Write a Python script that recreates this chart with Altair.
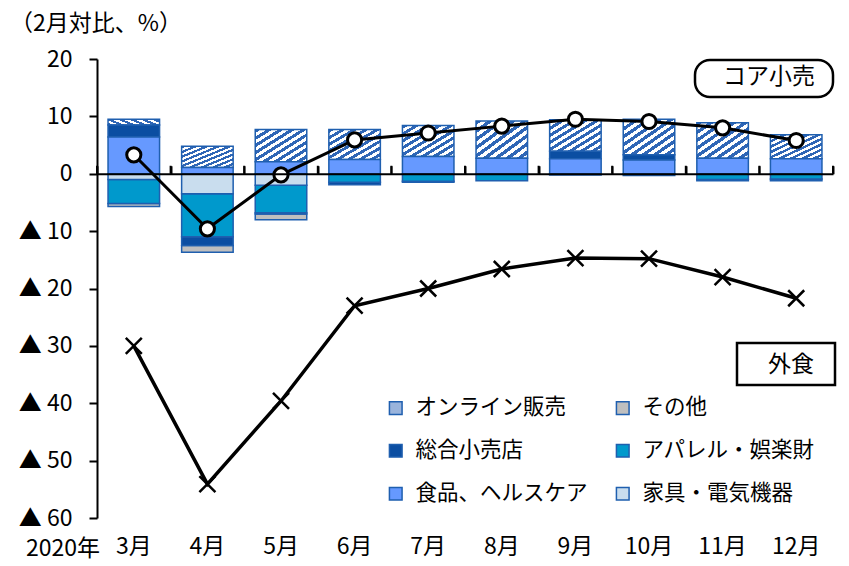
import altair as alt
import pandas as pd

months = ['3月', '4月', '5月', '6月', '7月', '8月', '9月', '10月', '11月', '12月']
categories = ['オンライン販売', '総合小売店', '食品、ヘルスケア', 'その他', 'アパレル・娯楽財', '家具・電気機器']
stack_order = ['家具・電気機器', '食品、ヘルスケア', 'アパレル・娯楽財', '総合小売店', 'その他', 'オンライン販売']

online    = [1.0, 3.7, 5.6, 5.2, 5.4, 6.5, 5.5, 6.2, 6.2, 4.2]
other     = [-0.5, -1.2, -1.0, 0, 0, 0, 0, 0, 0, 0]
general   = [2.1, -1.5, -0.2, -0.4, -0.2, 0, 1.3, 0.9, -0.2, -0.3]
apparel   = [-4.2, -7.5, -4.8, -1.5, -1.3, -1.2, -0.2, -0.3, -1.0, -0.9]
food      = [6.4, 1.1, 2.1, 2.5, 3.0, 2.7, 2.6, 2.4, 2.7, 2.6]
furniture = [-1.0, -3.5, -2.0, 0, 0, 0, 0, 0, 0, 0]

core   = [3.3, -9.6, -0.2, 5.9, 7.1, 8.3, 9.5, 9.1, 8.0, 5.8]
dining = [-30.0, -54.1, -39.6, -23.0, -20.0, -16.6, -14.7, -14.8, -18.0, -21.7]

y_ticks = [-60, -50, -40, -30, -20, -10, 0, 10, 20]
y_title = ['（2月対比、%）']
year_label = ['2020年']
core_label = ['コア小売']
dining_label = ['外食']

series = {
    'オンライン販売': online,
    'その他': other,
    '総合小売店': general,
    'アパレル・娯楽財': apparel,
    '食品、ヘルスケア': food,
    '家具・電気機器': furniture,
}
rows = []
for cat, vals in series.items():
    for m, v in zip(months, vals):
        if v != 0:
            rows.append({'month': m, 'cat': cat, 'value': v})
bars_df = pd.DataFrame(rows)
lines_df = pd.DataFrame({'month': months, 'core': core, 'dining': dining})

color_map = {'オンライン販売': '#9AB4DC', 'その他': '#BFBFBF', '総合小売店': '#0B4EA2',
             'アパレル・娯楽財': '#0099CC', '食品、ヘルスケア': '#6699FF', '家具・電気機器': '#C9DDEE'}
colors = [color_map[c] for c in categories]
stroke_blue = '#1F5FAF'
stripe_blue = '#2F66B6'


def stripes(n):
    st = []
    for k in range(n):
        a = k / n
        b = (k + 0.5) / n
        c = (k + 1) / n
        st += [{'offset': a, 'color': stripe_blue}, {'offset': b, 'color': stripe_blue},
               {'offset': b, 'color': 'white'}, {'offset': c, 'color': 'white'}]
    return {'gradient': 'linear', 'x1': 0, 'y1': 0, 'x2': 1, 'y2': 1, 'stops': st}


hatch = stripes(9)

W, H = 736, 459
CJK = 'Noto Sans CJK JP'

yscale = alt.Scale(domain=[-60, 20], nice=False)
xscale = alt.Scale(domain=months, paddingInner=0, paddingOuter=0)

yaxis = alt.Axis(orient='left', values=y_ticks, title=None, grid=False,
                 labelExpr="datum.value < 0 ? '▲  ' + (-datum.value) : '' + datum.value",
                 domain=True, domainColor='black', domainWidth=2,
                 ticks=True, tickColor='black', tickWidth=2, tickSize=8,
                 labelFont=CJK, labelFontSize=23,
                 labelColor='black', labelPadding=17)

legend = alt.Legend(
    title=None, orient='none', legendX=288, legendY=338,
    columns=2, symbolType='square', symbolSize=160,
    symbolStrokeColor=stroke_blue, symbolStrokeWidth=1.5,
    labelFont=CJK, labelFontSize=21.5, labelColor='black', labelLimit=400,
    rowPadding=20, columnPadding=24, labelOffset=9,
)

bars = alt.Chart(bars_df).transform_calculate(
    ord="indexof(" + str(stack_order) + ", datum.cat)"
).mark_bar(stroke=stroke_blue, strokeWidth=1.5, width={'band': 0.7}).encode(
    x=alt.X('month:N', sort=months, scale=xscale,
            axis=alt.Axis(orient='top', offset=-H * 20 / 80, labels=False, title=None,
                          domain=True, domainColor='black', domainWidth=2,
                          ticks=True, tickColor='black', tickWidth=2, tickSize=8,
                          tickBand='extent', zindex=1)),
    y=alt.Y('value:Q', stack='zero', scale=yscale, axis=yaxis),
    fill=alt.condition(
        alt.datum.cat == 'オンライン販売',
        alt.value(hatch),
        alt.Fill('cat:N', scale=alt.Scale(domain=categories, range=colors), legend=legend)
    ),
    order=alt.Order('ord:Q', sort='ascending'),
)

# category-boundary ticks on the zero line
zero_ticks = alt.Chart(lines_df).mark_rule(color='black', strokeWidth=2, y2Offset=-8).encode(
    x=alt.X('month:N', sort=months, scale=xscale, bandPosition=0, axis=None),
    y=alt.Y(datum=0, scale=yscale, axis=yaxis), y2=alt.Y2(datum=0))
end_tick = alt.Chart(lines_df).transform_filter(
    alt.datum.month == months[-1]
).mark_rule(color='black', strokeWidth=2, y2Offset=-8).encode(
    x=alt.X('month:N', sort=months, scale=xscale, bandPosition=1, axis=None),
    y=alt.Y(datum=0, scale=yscale, axis=yaxis), y2=alt.Y2(datum=0))

xbottom = alt.X('month:N', sort=months, scale=xscale,
                axis=alt.Axis(orient='bottom', domain=False, ticks=False, labelPadding=17,
                              labelFont=CJK, labelFontSize=23, labelColor='black',
                              title=None, labelAngle=0))
xnone = alt.X('month:N', sort=months, scale=xscale, axis=None)

dining_line = alt.Chart(lines_df).mark_line(color='black', strokeWidth=3.5).encode(
    x=xbottom, y=alt.Y('dining:Q', scale=yscale, axis=yaxis))
dining_pts = alt.Chart(lines_df).mark_point(
    shape='M-1,-1L1,1M-1,1L1,-1', stroke='black', strokeWidth=2.5, size=256,
    filled=False, opacity=1).encode(
    x=xnone, y=alt.Y('dining:Q', scale=yscale, axis=yaxis))
core_line = alt.Chart(lines_df).mark_line(color='black', strokeWidth=3).encode(
    x=xnone, y=alt.Y('core:Q', scale=yscale, axis=yaxis))
core_pts = alt.Chart(lines_df).mark_point(
    shape='circle', filled=True, fill='white', stroke='black', strokeWidth=3,
    size=200, opacity=1).encode(
    x=xnone, y=alt.Y('core:Q', scale=yscale, axis=yaxis))

core_box = alt.Chart(pd.DataFrame({'label': core_label})).mark_rect(
    fill='white', stroke='black', strokeWidth=2.5, cornerRadius=15).encode(
    x=alt.value(598), x2=alt.value(736), y=alt.value(1), y2=alt.value(38))
core_text = alt.Chart(pd.DataFrame({'label': core_label})).mark_text(
    font=CJK, fontSize=23, color='black', baseline='middle', align='center').encode(
    x=alt.value(672), y=alt.value(18), text='label:N')

din_box = alt.Chart(pd.DataFrame({'label': dining_label})).mark_rect(
    fill='white', stroke='black', strokeWidth=2.5).encode(
    x=alt.value(640), x2=alt.value(738), y=alt.value(284), y2=alt.value(326))
din_text = alt.Chart(pd.DataFrame({'label': dining_label})).mark_text(
    font=CJK, fontSize=23, color='black', baseline='middle', align='center').encode(
    x=alt.value(694), y=alt.value(306), text='label:N')

title_text = alt.Chart(pd.DataFrame({'label': y_title})).mark_text(
    font=CJK, fontSize=23, color='black', baseline='middle', align='left').encode(
    x=alt.value(-87), y=alt.value(-35), text='label:N')
year_text = alt.Chart(pd.DataFrame({'label': year_label})).mark_text(
    font=CJK, fontSize=23, color='black', baseline='middle', align='right').encode(
    x=alt.value(3), y=alt.value(490), text='label:N')

chart = alt.layer(
    bars, zero_ticks, end_tick, dining_line, dining_pts, core_line, core_pts,
    core_box, core_text, din_box, din_text, title_text, year_text
).resolve_axis(x='independent').properties(
    width=W, height=H,
    padding={'left': 97, 'top': 59, 'right': 16, 'bottom': 48},
    autosize=alt.AutoSizeParams(type='none'),
).configure_view(stroke=None)

chart.save('out.html', embed_options={'renderer': 'svg', 'actions': False})
